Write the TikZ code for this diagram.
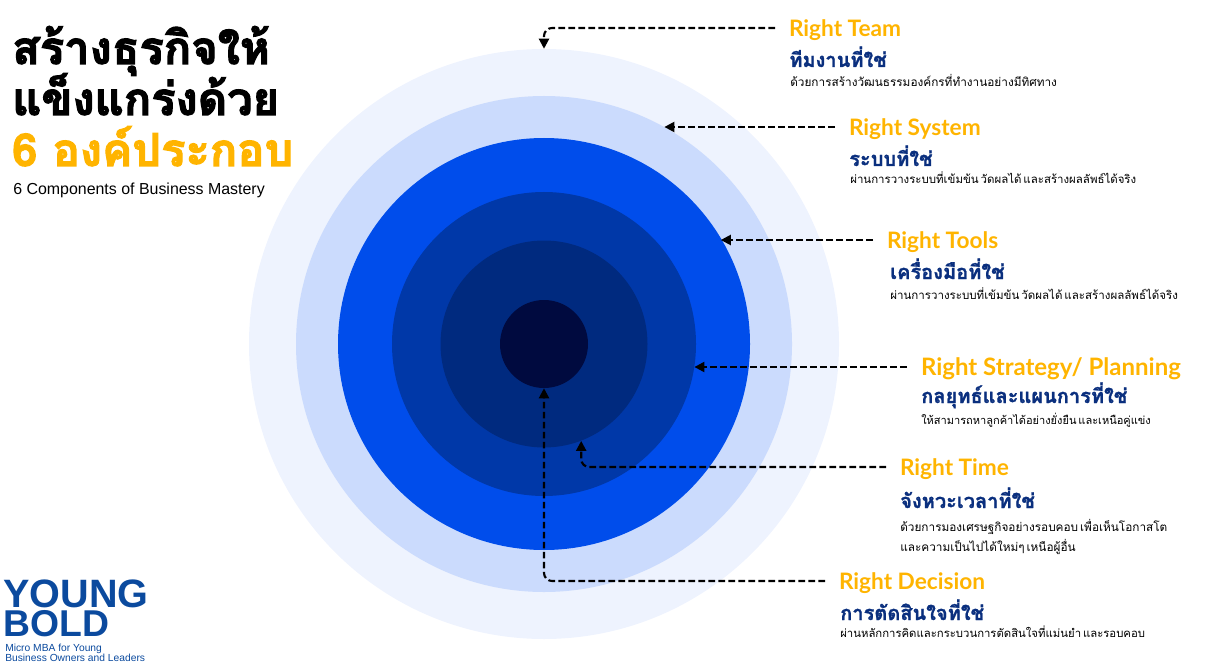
\documentclass[tikz,border=0pt]{standalone}
\usepackage{fontspec}
\setmainfont{Liberation Sans}
\newfontfamily\thaifont[Script=Thai,WordSpace=0.5]{Loma}
\newfontfamily\thaiheavy[Script=Thai,FakeBold=2.5]{Loma Bold}
\newfontfamily\thaibold[Script=Thai,FakeBold=1.2]{Loma Bold}
\newfontfamily\titlefont{Lato}
\usetikzlibrary{arrows.meta}
\definecolor{ringA}{HTML}{EEF3FE}
\definecolor{ringB}{HTML}{CBDBFD}
\definecolor{ringC}{HTML}{004DEB}
\definecolor{ringD}{HTML}{0038A8}
\definecolor{ringE}{HTML}{002A7F}
\definecolor{ringF}{HTML}{000A3F}
\definecolor{gold}{HTML}{FFB400}
\definecolor{navy}{HTML}{0A2F7E}
\definecolor{logoblue}{HTML}{0B4A9E}
\tikzset{
    ring/.style={circle, inner sep=0pt, minimum size=#1*0.75pt},
    headline/.style={anchor=base west, inner sep=0pt, font=\fontsize{34}{34}\thaiheavy},
    rtitle/.style={anchor=west, inner sep=0pt, outer xsep=10.5pt, text depth=0pt, text=gold, font=\fontsize{17}{17}\titlefont\bfseries},
    rthai/.style={anchor=base west, inner sep=0pt, text=navy, font=\fontsize{15}{15}\thaibold},
    rtext/.style={anchor=base west, inner sep=0pt, font=\fontsize{#1}{#1}\thaifont},
    rtext/.default=8.85,
    logotext/.style={anchor=base west, inner sep=0pt, text=logoblue},
    link/.style={line width=1.6pt, dash pattern=on 5pt off 2.5pt, rounded corners=6pt, -{Triangle[length=7.5pt,width=7.5pt]}},
}
\begin{document}
\begin{tikzpicture}[x=0.75pt, y=-0.75pt]
    \useasboundingbox (0, 0) rectangle (1226, 670);

    % Rings
    \node[ring=590, fill=ringA] (ringa) at (544, 344) {};
    \node[ring=496, fill=ringB] (ringb) at (544, 344) {};
    \node[ring=412, fill=ringC] (ringc) at (544, 344) {};
    \node[ring=304, fill=ringD] (ringd) at (544, 344) {};
    \node[ring=207, fill=ringE] (ringe) at (544, 344) {};
    \node[ring=88, fill=ringF] (ringf) at (544, 344) {};

    % Headline
    \node[headline] (lineone) at (12, 64) {สร้างธุรกิจให้};
    \node[headline] (linetwo) at (12, 115) {แข็งแกร่งด้วย};
    \node[headline, text=gold] (linethree) at (12, 166) {6 องค์ประกอบ};
    \node[anchor=west, inner sep=0pt, font=\fontsize{11.95}{11.95}\selectfont] (english) at (13, 190) {6 Components of Business Mastery};

    % Labels
    \node[rtitle] (team) at (775, 28) {Right Team};
    \node[rthai] (teamth) at (789, 67) {ทีมงานที่ใช่};
    \node[rtext] (teamtx) at (790, 87) {ด้วยการสร้างวัฒนธรรมองค์กรที่ทำงานอย่างมีทิศทาง};

    \node[rtitle] (system) at (835, 127) {Right System};
    \node[rthai] (systemth) at (849, 166) {ระบบที่ใช่};
    \node[rtext=8.6] (systemtx) at (850, 184) {ผ่านการวางระบบที่เข้มข้น วัดผลได้ และสร้างผลลัพธ์ได้จริง};

    \node[rtitle] (tools) at (873, 240) {Right Tools};
    \node[rthai] (toolsth) at (890, 279) {เครื่องมือที่ใช่};
    \node[rtext=8.65] (toolstx) at (890, 299) {ผ่านการวางระบบที่เข้มข้น วัดผลได้ และสร้างผลลัพธ์ได้จริง};

    \node[rtitle, font=\fontsize{18}{18}\titlefont\bfseries] (plan) at (907, 367) {Right Strategy/ Planning};
    \node[rthai] (planth) at (921, 403) {กลยุทธ์และแผนการที่ใช่};
    \node[rtext=8.27] (plantx) at (921, 424) {ให้สามารถหาลูกค้าได้อย่างยั่งยืน และเหนือคู่แข่ง};

    \node[rtitle] (time) at (886, 467) {Right Time};
    \node[rthai] (timeth) at (900, 508) {จังหวะเวลาที่ใช่};
    \node[rtext] (timetx) at (900, 531) {ด้วยการมองเศรษฐกิจอย่างรอบคอบ เพื่อเห็นโอกาสโต};
    \node[rtext] (timety) at (900, 551) {และความเป็นไปได้ใหม่ๆ เหนือผู้อื่น};

    \node[rtitle] (decision) at (825, 581) {Right Decision};
    \node[rthai] (decisionth) at (840, 620) {การตัดสินใจที่ใช่};
    \node[rtext=8.5] (decisiontx) at (840, 637) {ผ่านหลักการคิดและกระบวนการตัดสินใจที่แม่นยำ และรอบคอบ};

    % Connectors
    \draw[link] (team.west) -| (ringa.north);
    \draw[link] (system.west) -- (system.west -| ringb.61);
    \draw[link] (tools.west) -- (tools.west -| ringc.31);
    \draw[link] (plan.west) -- (plan.west -| ringd.-9);
    \draw[link] (time.west) -| (ringe.-69);
    \draw[link] (decision.west) -| (ringf.south);

    % Logo
    \node[logotext, font=\fontsize{29.7}{29.7}\selectfont\bfseries] (young) at (3, 607) {YOUNG};
    \node[logotext, font=\fontsize{28}{28}\selectfont\bfseries] (bold) at (3, 636) {BOLD};
    \node[logotext, font=\fontsize{7.7}{7.7}\selectfont] (micro) at (5, 651) {Micro MBA for Young};
    \node[logotext, font=\fontsize{7.7}{7.7}\selectfont] (owners) at (5, 661) {Business Owners and Leaders};
\end{tikzpicture}
\end{document}
